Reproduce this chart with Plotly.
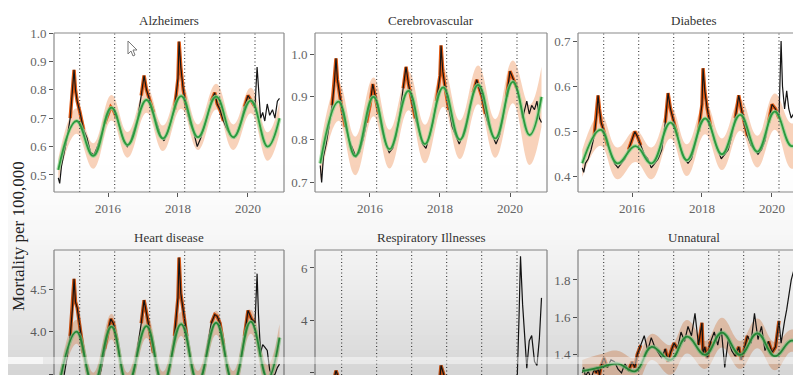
import plotly.graph_objects as go

# ---------------- data ----------------
# observation dates (decimal years)
t_obs = [2014.58, 2014.62, 2014.67, 2014.75, 2014.83, 2014.92, 2014.98,
         2015.03, 2015.07, 2015.12, 2015.2, 2015.3, 2015.4, 2015.5, 2015.6, 2015.7, 2015.8, 2015.9,
         2016.0, 2016.08, 2016.15, 2016.25, 2016.35, 2016.45, 2016.55, 2016.65, 2016.75, 2016.85, 2016.95,
         2017.03, 2017.1, 2017.2, 2017.3, 2017.4, 2017.5, 2017.6, 2017.7, 2017.8, 2017.9,
         2018.0, 2018.03, 2018.08, 2018.15, 2018.25, 2018.35, 2018.45, 2018.55, 2018.65, 2018.75, 2018.85, 2018.95,
         2019.05, 2019.12, 2019.2, 2019.3, 2019.4, 2019.5, 2019.6, 2019.7, 2019.8, 2019.9,
         2020.0, 2020.1, 2020.2, 2020.26, 2020.3, 2020.36, 2020.42, 2020.48, 2020.55, 2020.62, 2020.7, 2020.77, 2020.84, 2020.9]

alz_obs = [0.49, 0.47, 0.53, 0.58, 0.63, 0.70, 0.78,
           0.87, 0.80, 0.76, 0.72, 0.66, 0.63, 0.58, 0.57, 0.60, 0.64, 0.68,
           0.71, 0.74, 0.73, 0.70, 0.66, 0.62, 0.60, 0.62, 0.66, 0.70, 0.78,
           0.85, 0.80, 0.76, 0.72, 0.68, 0.64, 0.62, 0.65, 0.69, 0.73,
           0.84, 0.97, 0.88, 0.80, 0.73, 0.68, 0.65, 0.60, 0.63, 0.67, 0.71, 0.76,
           0.79, 0.75, 0.73, 0.69, 0.66, 0.64, 0.63, 0.65, 0.69, 0.74,
           0.78, 0.76, 0.74, 0.88, 0.82, 0.70, 0.72, 0.69, 0.75, 0.71, 0.73, 0.70, 0.76, 0.77]

cer_obs = [0.74, 0.70, 0.76, 0.79, 0.83, 0.88, 0.93,
           0.99, 0.94, 0.91, 0.87, 0.83, 0.80, 0.78, 0.76, 0.77, 0.80, 0.84,
           0.88, 0.93, 0.90, 0.86, 0.82, 0.79, 0.77, 0.78, 0.81, 0.86, 0.92,
           0.97, 0.93, 0.89, 0.85, 0.82, 0.79, 0.78, 0.81, 0.84, 0.89,
           0.95, 1.02, 0.96, 0.92, 0.87, 0.83, 0.81, 0.79, 0.81, 0.84, 0.88, 0.91,
           0.94, 0.92, 0.90, 0.86, 0.83, 0.81, 0.79, 0.81, 0.85, 0.90,
           0.96, 0.94, 0.92, 0.90, 0.88, 0.85, 0.87, 0.89, 0.86, 0.88, 0.87, 0.89, 0.85, 0.84]

dia_obs = [0.42, 0.41, 0.43, 0.44, 0.46, 0.49, 0.53,
           0.58, 0.55, 0.52, 0.50, 0.47, 0.45, 0.43, 0.42, 0.43, 0.44, 0.46,
           0.48, 0.50, 0.49, 0.47, 0.45, 0.44, 0.42, 0.43, 0.44, 0.46, 0.52,
           0.585, 0.55, 0.52, 0.49, 0.46, 0.44, 0.43, 0.44, 0.47, 0.50,
           0.56, 0.64, 0.59, 0.55, 0.51, 0.48, 0.46, 0.44, 0.45, 0.46, 0.49, 0.53,
           0.58, 0.55, 0.52, 0.49, 0.47, 0.46, 0.45, 0.46, 0.48, 0.52,
           0.56, 0.55, 0.53, 0.70, 0.60, 0.55, 0.59, 0.55, 0.53, 0.54, 0.52, 0.53, 0.51, 0.52]

hrt_obs = [3.35, 3.33, 3.38, 3.50, 3.70, 3.95, 4.25,
           4.62, 4.35, 4.28, 4.05, 3.75, 3.55, 3.40, 3.35, 3.40, 3.55, 3.80,
           4.00, 4.15, 4.10, 3.90, 3.65, 3.45, 3.38, 3.40, 3.55, 3.80, 4.10,
           4.37, 4.22, 4.00, 3.75, 3.55, 3.42, 3.40, 3.48, 3.65, 3.95,
           4.40, 4.87, 4.45, 4.25, 3.95, 3.70, 3.50, 3.42, 3.45, 3.60, 3.85, 4.10,
           4.20, 4.18, 4.10, 3.85, 3.60, 3.45, 3.40, 3.47, 3.65, 3.95,
           4.25, 4.15, 4.10, 4.68, 4.20, 3.75, 3.85, 3.82, 3.78, 3.55, 3.48, 3.50, 3.58, 3.62]

rsp_obs = [0.85, 0.82, 0.85, 0.95, 1.10, 1.40, 1.80,
           2.05, 1.90, 1.60, 1.30, 1.05, 0.92, 0.85, 0.82, 0.85, 0.95, 1.10,
           1.30, 1.55, 1.50, 1.25, 1.05, 0.92, 0.85, 0.83, 0.90, 1.05, 1.40,
           1.80, 1.70, 1.45, 1.20, 1.00, 0.90, 0.85, 0.90, 1.00, 1.30,
           1.80, 2.25, 2.00, 1.60, 1.25, 1.05, 0.92, 0.85, 0.85, 0.95, 1.10, 1.40,
           1.65, 1.55, 1.40, 1.15, 0.98, 0.90, 0.85, 0.90, 1.00, 1.30,
           1.60, 1.55, 1.45, 4.20, 6.45, 4.60, 3.20, 2.15, 3.20, 3.40, 2.40, 2.25, 3.30, 4.85]

unn_obs = [1.30, 1.33, 1.28, 1.31, 1.27, 1.32, 1.30,
           1.33, 1.29, 1.34, 1.38, 1.33, 1.37, 1.36, 1.32, 1.30, 1.35, 1.31,
           1.36, 1.33, 1.40, 1.45, 1.50, 1.42, 1.49, 1.44, 1.41, 1.38, 1.43,
           1.36, 1.41, 1.46, 1.43, 1.52, 1.47, 1.55, 1.50, 1.62, 1.45,
           1.57, 1.40, 1.44, 1.38, 1.47, 1.52, 1.45, 1.54, 1.33, 1.48, 1.42, 1.39,
           1.44, 1.37, 1.42, 1.50, 1.46, 1.62, 1.48, 1.55, 1.42, 1.47,
           1.41, 1.44, 1.58, 1.46, 1.52, 1.58, 1.64, 1.72, 1.80, 1.85, 1.93, 1.66, 1.70, 1.62]

# smooth model (green) key points and half-width of its band
t_smooth = [2014.58, 2015.1, 2015.58, 2016.1, 2016.56, 2017.1, 2017.57,
            2018.09, 2018.57, 2019.09, 2019.58, 2020.08, 2020.56, 2020.9]
alz_fit = [0.518, 0.69, 0.567, 0.737, 0.606, 0.764, 0.629, 0.778, 0.633, 0.776, 0.633, 0.762, 0.600, 0.70]
alz_band = [0.04, 0.045, 0.045, 0.045, 0.045, 0.045, 0.045, 0.045, 0.045, 0.045, 0.045, 0.045, 0.05, 0.055]
cer_fit = [0.745, 0.889, 0.762, 0.90, 0.778, 0.914, 0.79, 0.922, 0.80, 0.928, 0.803, 0.935, 0.811, 0.90]
cer_band = [0.04, 0.045, 0.045, 0.045, 0.045, 0.045, 0.045, 0.045, 0.045, 0.045, 0.045, 0.05, 0.07, 0.07]
dia_fit = [0.43, 0.504, 0.43, 0.468, 0.43, 0.52, 0.437, 0.529, 0.45, 0.537, 0.456, 0.544, 0.468, 0.49]
dia_band = [0.03, 0.035, 0.035, 0.035, 0.035, 0.035, 0.035, 0.035, 0.035, 0.035, 0.035, 0.04, 0.05, 0.05]
hrt_fit = [3.33, 4.0, 3.38, 4.06, 3.38, 4.066, 3.39, 4.09, 3.40, 4.105, 3.40, 4.117, 3.45, 3.93]
hrt_band = [0.12, 0.14, 0.14, 0.15, 0.14, 0.14, 0.14, 0.14, 0.14, 0.14, 0.14, 0.14, 0.16, 0.16]
rsp_fit = [0.88, 1.55, 0.88, 1.40, 0.88, 1.50, 0.88, 1.65, 0.88, 1.45, 0.88, 1.45, 0.90, 1.20]
rsp_band = [0.2, 0.25, 0.2, 0.25, 0.2, 0.25, 0.2, 0.25, 0.2, 0.25, 0.2, 0.25, 0.25, 0.25]
unn_fit = [1.31, 1.33, 1.35, 1.31, 1.44, 1.37, 1.495, 1.397, 1.517, 1.397, 1.513, 1.39, 1.474, 1.43]
unn_band = [0.06, 0.07, 0.07, 0.07, 0.07, 0.08, 0.09, 0.075, 0.08, 0.075, 0.08, 0.075, 0.06, 0.07]

titles = ["Alzheimers", "Cerebrovascular", "Diabetes",
          "Heart disease", "Respiratory Illnesses", "Unnatural"]
ytick_vals = [[0.5, 0.6, 0.7, 0.8, 0.9, 1.0], [0.7, 0.8, 0.9, 1.0], [0.4, 0.5, 0.6, 0.7],
              [3.5, 4.0, 4.5], [2, 4, 6], [1.4, 1.6, 1.8]]
ytick_fmt = [".1f", ".1f", ".1f", ".1f", "d", ".1f"]
xtick_vals = [2016, 2018, 2020]
xtick_text = ["2016", "2018", "2020"]
season_marks = [2015.19, 2016.19, 2017.19, 2018.19, 2019.19, 2020.2]
y_title = "Mortality per 100,000"

obs_list = [alz_obs, cer_obs, dia_obs, hrt_obs, rsp_obs, unn_obs]
fit_list = [alz_fit, cer_fit, dia_fit, hrt_fit, rsp_fit, unn_fit]
band_list = [alz_band, cer_band, dia_band, hrt_band, rsp_band, unn_band]

# ---------------- layout geometry (screen pixels) ----------------
OFF = 8                      # default page body margin
W, H = 801 - OFF, 375 - OFF  # figure fills the window exactly
cols_px = [(54, 284), (315, 547), (578, 801)]
rows_px = [(33, 192), (250, 375)]
xranges = [[2014.457, 2021.029], [2014.43, 2021.057], [2014.457, 2020.829]]
yranges = [[0.44, 1.0], [0.678, 1.049], [0.3667, 0.7177],
           [3.493, 4.957], [1.885, 6.692], [1.289, 1.961]]

SERIF = "Liberation Serif, Times New Roman, serif"
C_BLACK = "#151515"
C_ORANGE = "#e05a14"
C_RIBBON = "rgba(242,165,118,0.5)"
C_GREEN = "#2b9a3e"
C_HALO = "rgba(150,215,150,0.75)"
C_FRAME = "#8a8a8a"


def px_x(p):
    return max(0.0, min(1.0, (p - OFF) / W))


def px_y(p):
    return max(0.0, min(1.0, 1 - (p - OFF) / H))


def winter_only(t, v):
    out = []
    for ti, vi in zip(t, v):
        f = ti - int(ti)
        out.append(vi if (ti < 2020.21 and (f >= 0.85 or f <= 0.3)) else None)
    return out


fig = go.Figure()
layout = dict(width=W, height=H, margin=dict(l=0, r=0, t=0, b=0), autosize=False,
              paper_bgcolor="white", plot_bgcolor="rgba(0,0,0,0)",
              showlegend=False, font=dict(family=SERIF, color="#333"))
shapes = []
annotations = []

for i in range(6):
    r, c = divmod(i, 3)
    sfx = "" if i == 0 else str(i + 1)
    xa, ya = "x" + sfx, "y" + sfx
    x0p, x1p = cols_px[c]
    y0p, y1p = rows_px[r]
    layout["xaxis" + sfx] = dict(
        domain=[px_x(x0p), px_x(x1p)], range=xranges[c], anchor=ya,
        showgrid=False, zeroline=False, showline=False,
        tickvals=xtick_vals, ticktext=xtick_text, ticks="outside", ticklen=4,
        tickcolor="#555", tickfont=dict(family=SERIF, size=13, color="#666"),
        showticklabels=(r == 0), automargin=False)
    layout["yaxis" + sfx] = dict(
        domain=[px_y(y1p), px_y(y0p)], range=yranges[i], anchor=xa,
        showgrid=False, zeroline=False, showline=False,
        tickvals=ytick_vals[i], tickformat=ytick_fmt[i], ticks="outside", ticklen=4,
        tickcolor="#555", tickfont=dict(family=SERIF, size=13, color="#666"),
        automargin=False)

    fit = fit_list[i]
    band = band_list[i]
    obs = obs_list[i]
    lo = [f - b for f, b in zip(fit, band)]
    hi = [f + b for f, b in zip(fit, band)]
    common = dict(xaxis=xa, yaxis=ya, hoverinfo="skip", showlegend=False)
    fig.add_trace(go.Scatter(x=t_smooth, y=lo, mode="lines",
                             line=dict(width=0, shape="spline", smoothing=1.2), **common))
    fig.add_trace(go.Scatter(x=t_smooth, y=hi, mode="lines", fill="tonexty",
                             fillcolor=C_RIBBON,
                             line=dict(width=0, shape="spline", smoothing=1.2), **common))
    fig.add_trace(go.Scatter(x=t_obs, y=winter_only(t_obs, obs), mode="lines",
                             line=dict(width=3.5, color=C_ORANGE), connectgaps=False, **common))
    fig.add_trace(go.Scatter(x=t_obs, y=obs, mode="lines",
                             line=dict(width=1.2, color=C_BLACK), **common))
    fig.add_trace(go.Scatter(x=t_smooth, y=fit, mode="lines",
                             line=dict(width=4, color=C_HALO, shape="spline", smoothing=1.2), **common))
    fig.add_trace(go.Scatter(x=t_smooth, y=fit, mode="lines",
                             line=dict(width=1.8, color=C_GREEN, shape="spline", smoothing=1.2), **common))

    # dotted season markers
    for v in season_marks:
        shapes.append(dict(type="line", xref=xa, yref=ya + " domain", x0=v, x1=v, y0=0, y1=1,
                           line=dict(color="#4a4a4a", width=1.2, dash="1px,2.5px"), layer="above"))
    # panel frame
    xd, yd = xa + " domain", ya + " domain"
    fl = dict(color=C_FRAME, width=1.2)
    shapes.append(dict(type="line", xref=xd, yref=yd, x0=0, x1=0, y0=0, y1=1, line=fl))
    shapes.append(dict(type="line", xref=xd, yref=yd, x0=0, x1=1, y0=1, y1=1, line=fl))
    if c < 2:
        shapes.append(dict(type="line", xref=xd, yref=yd, x0=1, x1=1, y0=0, y1=1, line=fl))
    if r == 0:
        shapes.append(dict(type="line", xref=xd, yref=yd, x0=0, x1=1, y0=0, y1=0, line=fl))

    # panel title
    cx = (x0p + (809 if c == 2 else x1p)) / 2
    annotations.append(dict(text=titles[i], x=px_x(cx), y=px_y(21 if r == 0 else 237),
                            xref="paper", yref="paper", xanchor="center", yanchor="middle",
                            showarrow=False, font=dict(family=SERIF, size=13, color="#333")))

annotations.append(dict(text=y_title, x=px_x(19), y=px_y(236), xref="paper", yref="paper",
                        textangle=-90, xanchor="center", yanchor="middle", showarrow=False,
                        font=dict(family=SERIF, size=17, color="#222")))

# mouse pointer visible in the frame
pts = [(128, 41), (128, 54), (131, 51), (133, 56), (135, 55), (133, 50), (137, 50)]
path = "M " + " L ".join("%.5f,%.5f" % (px_x(x), px_y(y)) for x, y in pts) + " Z"
shapes.append(dict(type="path", xref="paper", yref="paper", path=path,
                   fillcolor="white", line=dict(color="#777", width=1), layer="above"))

# video-player vignette overlay at the bottom
for k in range(45):
    top = 150 + k * 5
    frac = (top - 150) / 225
    a = 0.17 * frac ** 1.6
    shapes.append(dict(type="rect", xref="paper", yref="paper", x0=0, x1=1,
                       y0=px_y(top + 5), y1=px_y(top), line=dict(width=0),
                       fillcolor="rgba(0,0,0,%.3f)" % a, layer="above"))
shapes.append(dict(type="rect", xref="paper", yref="paper", x0=0, x1=1,
                   y0=px_y(364), y1=px_y(357), line=dict(width=0),
                   fillcolor="rgba(255,255,255,0.45)", layer="above"))
shapes.append(dict(type="rect", xref="paper", yref="paper", x0=0, x1=px_x(43),
                   y0=px_y(364), y1=px_y(357), line=dict(width=0),
                   fillcolor="rgba(255,255,255,0.6)", layer="above"))

layout["shapes"] = shapes
layout["annotations"] = annotations
fig.update_layout(**layout)
fig.write_html("out.html")
